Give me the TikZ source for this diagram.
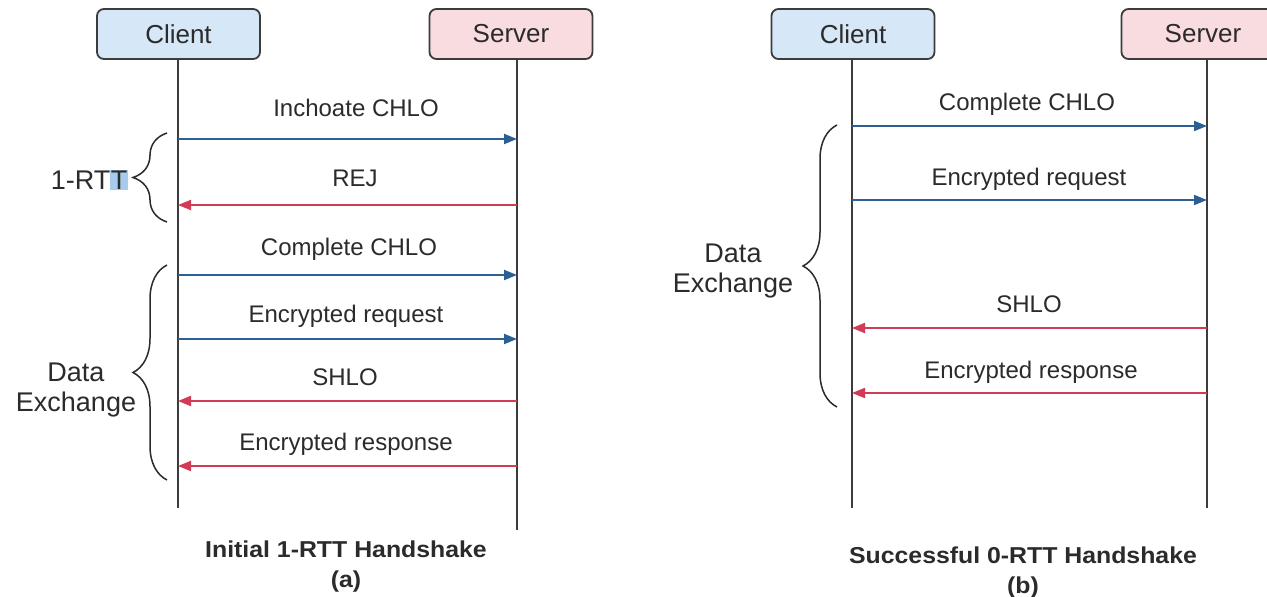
\documentclass[tikz,border=0pt]{standalone}
\usepackage{fontspec}
\setmainfont{Liberation Sans}
\newfontfamily\titlefont[FakeStretch=1.08]{Liberation Sans}
\usetikzlibrary{arrows.meta,decorations.pathreplacing}

\definecolor{ink}{HTML}{2B2B2B}
\definecolor{boxline}{HTML}{3C3C3C}
\definecolor{clientfill}{HTML}{D6E7F8}
\definecolor{serverfill}{HTML}{F9DCDF}
\definecolor{reqblue}{HTML}{2C5F93}
\definecolor{respred}{HTML}{D23B55}
\definecolor{selblue}{HTML}{A7CBEC}

\begin{document}
\begin{tikzpicture}[x=1pt,y=-1pt,
  actor/.style={draw=boxline,line width=1.8pt,rounded corners=7pt,
    minimum width=163pt,minimum height=50pt,inner sep=0pt,
    font=\fontsize{26}{30}\selectfont,text=ink},
  clientbox/.style={actor,fill=clientfill},
  serverbox/.style={actor,fill=serverfill},
  lifeline/.style={draw=boxline,line width=2pt},
  req/.style={draw=reqblue,line width=2pt,-{Triangle[length=13pt,width=10pt]}},
  resp/.style={draw=respred,line width=2pt,-{Triangle[length=13pt,width=10pt]}},
  msg/.style={font=\fontsize{24}{28}\selectfont,text=ink,inner sep=0pt,anchor=base},
  side/.style={font=\fontsize{27}{30}\selectfont,text=ink,align=center,inner sep=0pt},
  bracket/.style={draw=ink,line width=1.5pt,decorate,decoration={brace,amplitude=34pt}},
  caption/.style={font=\titlefont\bfseries\fontsize{23}{30}\selectfont,text=ink,
    align=center,inner sep=0pt}
]
\useasboundingbox (0,0) rectangle (1267,597);
\clip (0,0) rectangle (1267,597);
\fill[white] (0,0) rectangle (1267,597);

% ---------------- (a) Initial 1-RTT handshake ----------------
\node[clientbox] (lcli) at (178.5,34) {Client};
\node[serverbox] (lsrv) at (511,34) {Server};
\coordinate (lcliEnd) at (178,508);
\coordinate (lsrvEnd) at (517,530);
\draw[lifeline] (lcli.south -| lcliEnd) -- (lcliEnd);
\draw[lifeline] (lsrv.south -| lsrvEnd) -- (lsrvEnd);

\coordinate (la1) at (178,139); \coordinate (lb1) at (517,139);
\coordinate (la2) at (178,205); \coordinate (lb2) at (517,205);
\coordinate (la3) at (178,275); \coordinate (lb3) at (517,275);
\coordinate (la4) at (178,339); \coordinate (lb4) at (517,339);
\coordinate (la5) at (178,401); \coordinate (lb5) at (517,401);
\coordinate (la6) at (178,466); \coordinate (lb6) at (517,466);

\draw[req]  (la1) -- (lb1);
\draw[resp] (lb2) -- (la2);
\draw[req]  (la3) -- (lb3);
\draw[req]  (la4) -- (lb4);
\draw[resp] (lb5) -- (la5);
\draw[resp] (lb6) -- (la6);

\node[msg] (lm1) at (356,116) {Inchoate CHLO};
\node[msg] (lm2) at (355,186) {REJ};
\node[msg] (lm3) at (349,255) {Complete CHLO};
\node[msg] (lm4) at (346,322) {Encrypted request};
\node[msg] (lm5) at (345,385) {SHLO};
\node[msg] (lm6) at (346,450) {Encrypted response};

\coordinate (lbr1a) at (167,222); \coordinate (lbr1b) at (167,133);
\coordinate (lbr2a) at (167,480); \coordinate (lbr2b) at (167,265);
\draw[bracket] (lbr1a) -- (lbr1b);
\draw[bracket] (lbr2a) -- (lbr2b);

\node[side,anchor=east] (lrtt) at (128,180)
  {1-RT{\setlength{\fboxsep}{0.5pt}\colorbox{selblue}{T}}};
\node[side] (ldata) at (76,390) {Data\\Exchange};

\node[caption] (lcap) at (346,567) {Initial 1-RTT Handshake\\(a)};

% ---------------- (b) Successful 0-RTT handshake ----------------
\node[clientbox] (rcli) at (853,34) {Client};
\node[serverbox] (rsrv) at (1203,34) {Server};
\coordinate (rcliEnd) at (852,508);
\coordinate (rsrvEnd) at (1207,508);
\draw[lifeline] (rcli.south -| rcliEnd) -- (rcliEnd);
\draw[lifeline] (rsrv.south -| rsrvEnd) -- (rsrvEnd);

\coordinate (ra1) at (852,126); \coordinate (rb1) at (1207,126);
\coordinate (ra2) at (852,200); \coordinate (rb2) at (1207,200);
\coordinate (ra3) at (852,328); \coordinate (rb3) at (1207,328);
\coordinate (ra4) at (852,393); \coordinate (rb4) at (1207,393);

\draw[req]  (ra1) -- (rb1);
\draw[req]  (ra2) -- (rb2);
\draw[resp] (rb3) -- (ra3);
\draw[resp] (rb4) -- (ra4);

\node[msg] (rm1) at (1027,110) {Complete CHLO};
\node[msg] (rm2) at (1029,185) {Encrypted request};
\node[msg] (rm3) at (1029,312) {SHLO};
\node[msg] (rm4) at (1031,378) {Encrypted response};

\coordinate (rbra) at (837,407); \coordinate (rbrb) at (837,125);
\draw[bracket] (rbra) -- (rbrb);

\node[side] (rdata) at (733,271) {Data\\Exchange};

\node[caption] (rcap) at (1023,573) {Successful 0-RTT Handshake\\(b)};
\end{tikzpicture}
\end{document}
